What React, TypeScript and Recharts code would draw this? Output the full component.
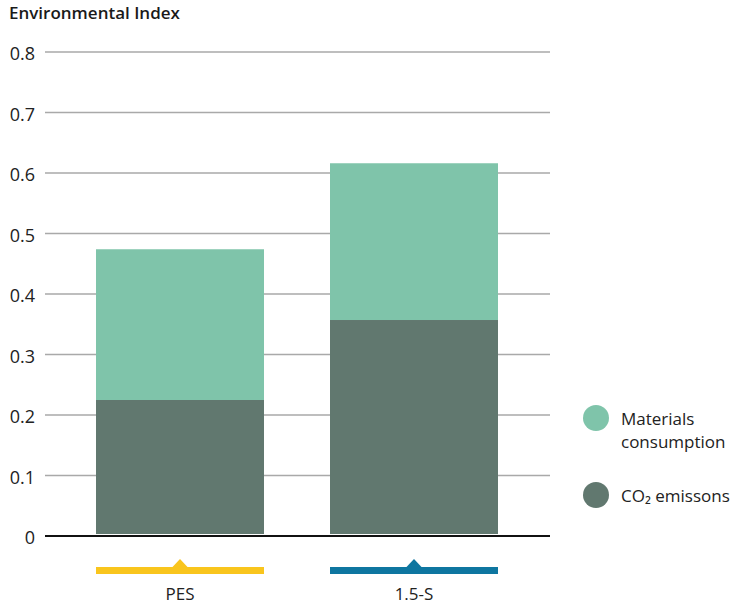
import React from 'react';
import { BarChart, Bar, XAxis, YAxis, CartesianGrid, Legend } from 'recharts';

const categories = ['PES', '1.5-S'];
const co2Emissions = [0.225, 0.357];
const materialsConsumption = [0.249, 0.259];
const markerColors = ['#F9C51D', '#0E76A0'];
const yTicks = [0, 0.1, 0.2, 0.3, 0.4, 0.5, 0.6, 0.7, 0.8];
const seriesNames = { co2: 'CO₂ emissons', materials: 'Materials consumption' };
const seriesColors = { co2: '#61786F', materials: '#7FC4AA' };

const data = categories.map((name, i) => ({
  name,
  co2: co2Emissions[i],
  materials: materialsConsumption[i],
}));

const FONT = '"Open Sans", sans-serif';

const BottomBarShape = (props: any) => {
  const { x, y, width, height, fill } = props;
  return <rect x={x} y={y} width={width} height={Math.max(0, height - 2)} fill={fill} />;
};

const XTick = (props: any) => {
  const { x, y, payload, index } = props;
  const color = markerColors[index] || '#999';
  const half = 84;
  return (
    <g>
      <rect x={x - half} y={y + 31} width={half * 2} height={7} fill={color} />
      <polygon points={`${x - 8},${y + 31.5} ${x},${y + 23} ${x + 8},${y + 31.5}`} fill={color} />
      <text x={x} y={y + 64} textAnchor="middle" fontSize={17} fontFamily={FONT} fill="#222">
        {payload.value}
      </text>
    </g>
  );
};

const YTick = (props: any) => {
  const { x, y, payload } = props;
  return (
    <text x={x} y={y + 8} textAnchor="end" fontSize={18} fontFamily={FONT} fill="#222">
      {payload.value === 0 ? '0' : String(payload.value)}
    </text>
  );
};

const LegendContent = (props: any) => {
  const payload = props.payload || [];
  const find = (k: string) => payload.find((p: any) => p.dataKey === k);
  const items = [find('materials'), find('co2')].filter(Boolean);
  return (
    <div style={{ position: 'relative', width: 152, height: 0, overflow: 'visible', fontFamily: FONT, fontSize: 17, color: '#222' }}>
      {items.map((it: any, i: number) => (
        <div key={it.dataKey} style={{ position: 'absolute', left: 0, top: i === 0 ? 0 : 77, width: 152 }}>
          <div
            style={{
              position: 'absolute',
              left: 0,
              top: 0,
              width: 26,
              height: 26,
              borderRadius: '50%',
              background: it.color,
            }}
          />
          <div
            style={{
              position: 'absolute',
              left: 38,
              top: i === 0 ? 2 : 1.5,
              width: 112,
              lineHeight: '23px',
              whiteSpace: i === 0 ? 'normal' : 'nowrap',
            }}
          >
            {it.value}
          </div>
        </div>
      ))}
    </div>
  );
};

export default function App() {
  return (
    <div style={{ position: 'absolute', left: 0, top: 0, width: 735, height: 605, background: '#fff' }}>
      <div
        style={{
          position: 'absolute',
          left: 9,
          top: 2,
          fontFamily: FONT,
          fontWeight: 600,
          fontSize: 17,
          lineHeight: '22px',
          color: '#1a1a1a',
        }}
      >
        Environmental Index
      </div>
      <BarChart
        width={735}
        height={605}
        data={data}
        margin={{ top: 52, right: 185, bottom: 0, left: 0 }}
        barSize={168}
      >
        <CartesianGrid vertical={false} stroke="#a9a9a9" strokeWidth={1.5} />
        <YAxis
          domain={[0, 0.8]}
          ticks={yTicks}
          axisLine={false}
          tickLine={false}
          tickSize={0}
          tickMargin={10}
          width={45}
          tick={<YTick />}
          interval={0}
        />
        <XAxis
          dataKey="name"
          height={69}
          padding={{ left: 18, right: 19 }}
          axisLine={{ stroke: '#111', strokeWidth: 2 }}
          tickLine={false}
          tickSize={0}
          tickMargin={0}
          tick={<XTick />}
          interval={0}
        />
        <Legend
          content={<LegendContent />}
          wrapperStyle={{ position: 'absolute', left: 583, top: 405, width: 152, height: 0 }}
        />
        <Bar
          dataKey="co2"
          name={seriesNames.co2}
          stackId="a"
          fill={seriesColors.co2}
          shape={<BottomBarShape />}
          isAnimationActive={false}
        />
        <Bar
          dataKey="materials"
          name={seriesNames.materials}
          stackId="a"
          fill={seriesColors.materials}
          isAnimationActive={false}
        />
      </BarChart>
    </div>
  );
}
